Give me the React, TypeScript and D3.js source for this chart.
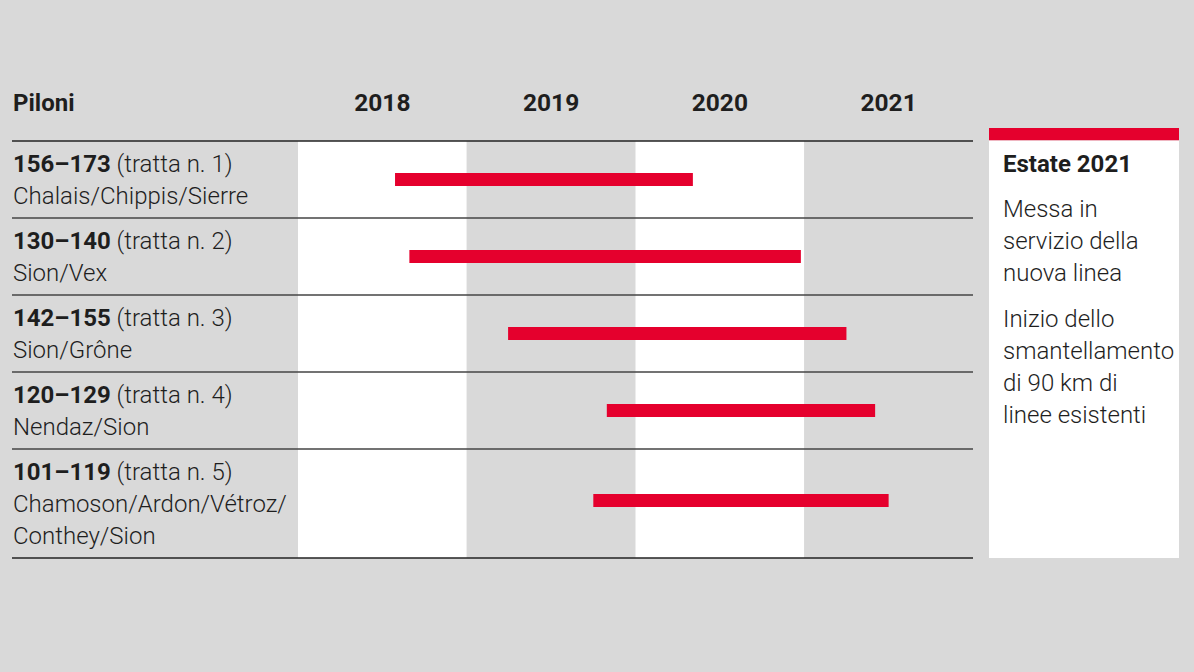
import React from "react";
import * as d3 from "d3";

const years = [2018, 2019, 2020, 2021];
const rangeLabels = ["156–173", "130–140", "142–155", "120–129", "101–119"];
const trattaLabels = ["(tratta n. 1)", "(tratta n. 2)", "(tratta n. 3)", "(tratta n. 4)", "(tratta n. 5)"];
const placeLines = [
  ["Chalais/Chippis/Sierre"],
  ["Sion/Vex"],
  ["Sion/Grône"],
  ["Nendaz/Sion"],
  ["Chamoson/Ardon/Vétroz/", "Conthey/Sion"],
];
const startYears = [2018.575, 2018.66, 2019.245, 2019.83, 2019.75];
const endYears = [2020.34, 2020.98, 2021.25, 2021.42, 2021.5];
const legendTitle = "Estate 2021";
const legendBlocks = [
  ["Messa in", "servizio della", "nuova linea"],
  ["Inizio dello", "smantellamento", "di 90 km di", "linee esistenti"],
];

const W = 1194;
const H = 672;
const FONT = "Roboto, 'Noto Sans', sans-serif";
const BG = "#d9d9d9";
const RED = "#e5002d";
const TEXT = "#1e1e1e";

export default function App() {
  const x = d3.scaleLinear().domain([2018, 2022]).range([298, 973]);
  const lineH = 32;
  const top = 141;
  const rows: { y0: number; h: number; lines: number }[] = [];
  let cy = top;
  placeLines.forEach((p) => {
    const lines = 1 + p.length;
    const h = 13 + lineH * lines;
    rows.push({ y0: cy, h, lines });
    cy += h;
  });
  const bottom = cy;

  return (
    <div style={{ position: "fixed", left: 0, top: 0, width: W, height: H, background: BG }}>
      <svg width={W} height={H} style={{ display: "block" }} fontFamily={FONT}>
        <rect width={W} height={H} fill={BG} />
        {years.map((yr, i) => (
          <rect
            key={yr}
            x={x(yr)}
            y={top}
            width={x(yr + 1) - x(yr)}
            height={bottom - top}
            fill={i % 2 === 0 ? "#ffffff" : BG}
          />
        ))}
        <text x={13} y={111} fontSize={24} fontWeight={700} fill={TEXT}>
          Piloni
        </text>
        {years.map((yr) => (
          <text
            key={yr}
            x={x(yr + 0.5)}
            y={111}
            fontSize={24.5}
            fontWeight={700}
            fill={TEXT}
            textAnchor="middle"
          >
            {yr}
          </text>
        ))}
        {rows.map((r, i) => {
          const barY = r.y0 + r.h / 2 - (r.lines - 2) * 3;
          return (
            <g key={i}>
              <text x={13} y={r.y0 + 31} fontSize={24} fill={TEXT}>
                <tspan fontWeight={700}>{rangeLabels[i]}</tspan>
                <tspan fontWeight={300}> {trattaLabels[i]}</tspan>
              </text>
              {placeLines[i].map((ln, j) => (
                <text
                  key={j}
                  x={13}
                  y={r.y0 + 31 + lineH * (j + 1)}
                  fontSize={24}
                  fontWeight={300}
                  fill={TEXT}
                >
                  {ln}
                </text>
              ))}
              <rect
                x={x(startYears[i])}
                y={barY - 6.5}
                width={x(endYears[i]) - x(startYears[i])}
                height={13}
                fill={RED}
              />
            </g>
          );
        })}
        {[top, ...rows.map((r) => r.y0 + r.h)].map((yy, i) => (
          <line
            key={i}
            x1={12}
            x2={973}
            y1={yy}
            y2={yy}
            stroke={i === 0 || i === rows.length ? "#222" : "#444"}
            strokeWidth={1.3}
          />
        ))}
        <rect x={989} y={128} width={190} height={12.5} fill={RED} />
        <rect x={989} y={140.5} width={190} height={bottom - 140.5} fill="#ffffff" />
        <text x={1003} y={172} fontSize={24} fontWeight={700} fill={TEXT}>
          {legendTitle}
        </text>
        {legendBlocks[0].map((ln, j) => (
          <text key={"a" + j} x={1003} y={217 + lineH * j} fontSize={24} fontWeight={300} fill={TEXT}>
            {ln}
          </text>
        ))}
        {legendBlocks[1].map((ln, j) => (
          <text key={"b" + j} x={1003} y={327 + lineH * j} fontSize={24} fontWeight={300} fill={TEXT}>
            {ln}
          </text>
        ))}
      </svg>
    </div>
  );
}
